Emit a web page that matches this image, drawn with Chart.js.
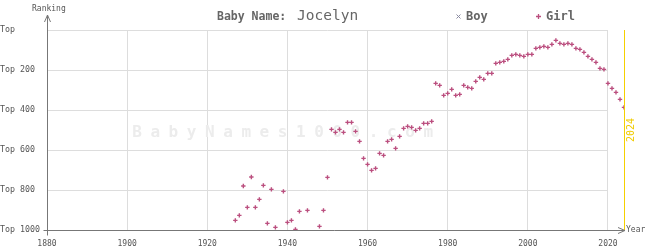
<!DOCTYPE html>
<html>
<head>
<meta charset="utf-8">
<script src="https://cdn.jsdelivr.net/npm/chart.js@4.4.0/dist/chart.umd.min.js"></script>
<style>
    html, body { margin: 0; padding: 0; background: #fff; }
    #wrap { width: 645px; height: 250px; }
</style>
</head>
<body>
<div id="wrap"><canvas id="rankChart" width="645" height="250"></canvas></div>
<script>
const babyName = 'Jocelyn';
const yearTicks = [1880, 1900, 1920, 1940, 1960, 1980, 2000, 2020];
const rankTicks = [0, 200, 400, 600, 800, 1000];
const rankTickLabels = ['Top', 'Top 200', 'Top 400', 'Top 600', 'Top 800', 'Top 1000'];
const currentYear = 2024;

const girlYears = [
    1927, 1928, 1929, 1930, 1931, 1932, 1933, 1934, 1935, 1936, 1937, 1939, 1940, 1941, 1942, 1943,
    1945, 1948, 1949, 1950, 1951, 1952, 1953, 1954, 1955, 1956, 1957, 1958, 1959,
    1960, 1961, 1962, 1963, 1964, 1965, 1966, 1967, 1968, 1969,
    1970, 1971, 1972, 1973, 1974, 1975, 1976, 1977, 1978, 1979,
    1980, 1981, 1982, 1983, 1984, 1985, 1986, 1987, 1988, 1989,
    1990, 1991, 1992, 1993, 1994, 1995, 1996, 1997, 1998, 1999,
    2000, 2001, 2002, 2003, 2004, 2005, 2006, 2007, 2008, 2009,
    2010, 2011, 2012, 2013, 2014, 2015, 2016, 2017, 2018, 2019,
    2020, 2021, 2022, 2023, 2024
];
const girlRanks = [
    952, 927, 780, 887, 735, 887, 847, 777, 967, 797, 987, 807, 962, 952, 997, 907,
    902, 982, 902, 737, 497, 512, 497, 512, 462, 462, 507, 557, 642,
    672, 702, 692, 617, 627, 557, 547, 592, 532, 492,
    482, 487, 502, 492, 467, 467, 457, 267, 277, 327,
    317, 297, 327, 322, 277, 287, 292, 257, 237, 247,
    217, 217, 167, 162, 157, 147, 127, 122, 127, 132,
    122, 122, 92, 87, 82, 87, 72, 52, 67, 72,
    67, 72, 92, 97, 112, 132, 147, 162, 192, 197,
    267, 292, 312, 347, 387
];
const boyYears = [];
const boyRanks = [];

const girlColor = '#bb4f7f';
const boyColor = '#8a8aa0';
const textColor = '#555';
const gridColor = '#dddddd';
const axisColor = '#777';
const monoFont = '"DejaVu Sans Mono", "Liberation Mono", monospace';

function toPoints(years, ranks) {
    return years.map((year, i) => ({ x: year, y: ranks[i] }));
}

// grid, watermark and the current-year marker go under the points
const backdropPlugin = {
    id: 'backdrop',
    beforeDatasetsDraw(chart) {
        const ctx = chart.ctx;
        const xs = chart.scales.x;
        const ys = chart.scales.y;
        const left = xs.getPixelForValue(yearTicks[0]);
        const right = xs.getPixelForValue(yearTicks[yearTicks.length - 1]);
        ctx.save();
        ctx.strokeStyle = gridColor;
        ctx.lineWidth = 1;
        rankTicks.slice(0, -1).forEach(rank => {
            const y = Math.round(ys.getPixelForValue(rank)) + 0.5;
            ctx.beginPath();
            ctx.moveTo(left, y);
            ctx.lineTo(right, y);
            ctx.stroke();
        });

        // watermark
        const mark = 'BabyNames1000.com';
        ctx.fillStyle = '#ececec';
        ctx.font = 'bold 16px ' + monoFont;
        ctx.textAlign = 'center';
        ctx.textBaseline = 'middle';
        const midY = ys.getPixelForValue(515);
        for (let i = 0; i < mark.length; i++) {
            ctx.fillText(mark[i], 137 + i * 18.2, midY);
        }

        // current year line
        const cx = Math.round(xs.getPixelForValue(currentYear)) + 0.5;
        ctx.strokeStyle = '#f5d000';
        ctx.beginPath();
        ctx.moveTo(cx, chart.chartArea.top);
        ctx.lineTo(cx, chart.chartArea.bottom);
        ctx.stroke();
        ctx.translate(cx + 7, (chart.chartArea.top + chart.chartArea.bottom) / 2);
        ctx.rotate(-Math.PI / 2);
        ctx.fillStyle = '#f0cc00';
        ctx.font = '10px ' + monoFont;
        ctx.fillText(String(currentYear), 0, 0);
        ctx.restore();
    },
    afterDraw(chart) {
        const ctx = chart.ctx;
        const area = chart.chartArea;
        const x0 = Math.round(area.left) + 0.5;
        const y0 = Math.round(area.bottom) + 0.5;
        ctx.save();
        ctx.strokeStyle = axisColor;
        ctx.lineWidth = 1;

        // axes with arrows
        ctx.beginPath();
        ctx.moveTo(x0, y0 + 5);
        ctx.lineTo(x0, 15);
        ctx.moveTo(x0 - 3, 22);
        ctx.lineTo(x0, 15);
        ctx.lineTo(x0 + 3, 22);
        ctx.moveTo(x0 - 4, y0);
        ctx.lineTo(area.right + 1, y0);
        ctx.moveTo(area.right - 6, y0 - 3);
        ctx.lineTo(area.right + 1, y0);
        ctx.lineTo(area.right - 6, y0 + 3);
        ctx.stroke();

        ctx.fillStyle = textColor;
        ctx.font = '8px ' + monoFont;
        ctx.textBaseline = 'middle';
        ctx.textAlign = 'left';
        ctx.fillText('Ranking', 32, 9);
        ctx.fillText('Year', area.right + 2, y0 - 1);

        // title
        ctx.fillStyle = '#666';
        ctx.font = 'bold 11.5px ' + monoFont;
        ctx.fillText('Baby Name:', 217, 17);
        ctx.font = '14.5px ' + monoFont;
        ctx.fillText(babyName, 297, 16);

        // legend
        ctx.font = 'bold 12px ' + monoFont;
        ctx.fillText('Boy', 466, 17);
        ctx.fillText('Girl', 546, 17);
        ctx.lineWidth = 1;
        ctx.strokeStyle = boyColor;
        ctx.beginPath();
        ctx.moveTo(456.5, 14.5); ctx.lineTo(460.5, 18.5);
        ctx.moveTo(460.5, 14.5); ctx.lineTo(456.5, 18.5);
        ctx.stroke();
        ctx.strokeStyle = girlColor;
        ctx.lineWidth = 1.3;
        ctx.beginPath();
        ctx.moveTo(536, 16.5); ctx.lineTo(541, 16.5);
        ctx.moveTo(538.5, 14); ctx.lineTo(538.5, 19);
        ctx.stroke();
        ctx.restore();
    }
};

new Chart(document.getElementById('rankChart'), {
    type: 'scatter',
    data: {
        datasets: [
            {
                label: 'Boy',
                data: toPoints(boyYears, boyRanks),
                pointStyle: 'crossRot',
                pointRadius: 2.5,
                borderColor: boyColor,
                borderWidth: 1
            },
            {
                label: 'Girl',
                data: toPoints(girlYears, girlRanks),
                pointStyle: 'cross',
                pointRadius: 2.2,
                borderColor: girlColor,
                backgroundColor: girlColor,
                borderWidth: 1.4
            }
        ]
    },
    options: {
        responsive: false,
        animation: false,
        layout: { padding: { top: 30, right: 21, bottom: 0, left: 0 } },
        plugins: {
            legend: { display: false },
            tooltip: { enabled: false }
        },
        scales: {
            x: {
                type: 'linear',
                min: 1880,
                max: currentYear,
                afterFit: scale => { scale.height = 20; },
                afterBuildTicks: scale => {
                    scale.ticks = yearTicks.map(v => ({ value: v }));
                },
                grid: { color: gridColor, drawTicks: false },
                border: { display: false },
                ticks: {
                    padding: 9,
                    color: textColor,
                    font: { family: monoFont, size: 8 },
                    maxRotation: 0,
                    callback: value => String(value)
                }
            },
            y: {
                type: 'linear',
                reverse: true,
                min: 0,
                max: 1000,
                afterFit: scale => { scale.width = 47; },
                afterBuildTicks: scale => {
                    scale.ticks = rankTicks.map(v => ({ value: v }));
                },
                grid: { display: false, drawTicks: false },
                border: { display: false },
                ticks: {
                    padding: 0,
                    crossAlign: 'far',
                    color: textColor,
                    font: { family: monoFont, size: 8.3 },
                    callback: value => rankTickLabels[rankTicks.indexOf(value)]
                }
            }
        }
    },
    plugins: [backdropPlugin]
});
</script>
</body>
</html>
